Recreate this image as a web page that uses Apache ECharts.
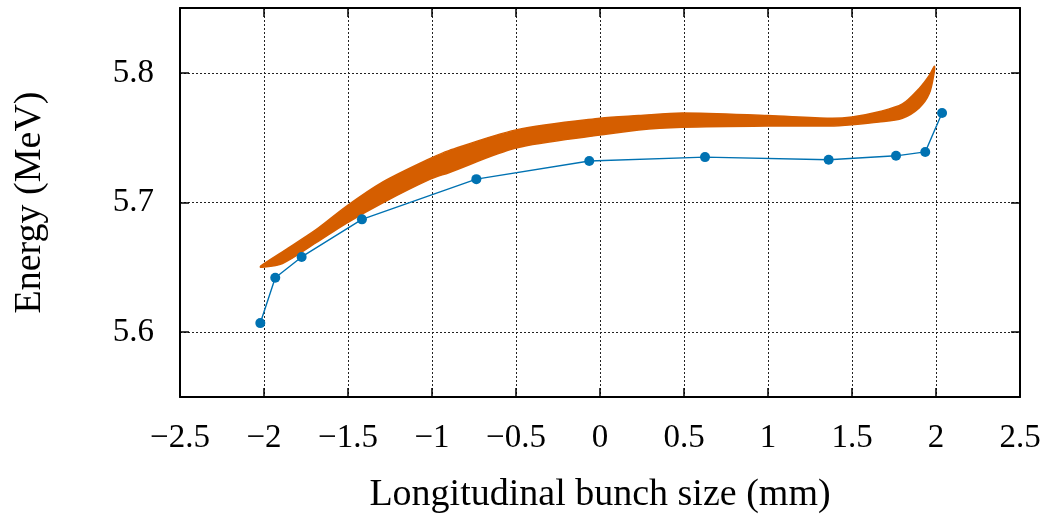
<!DOCTYPE html>
<html>
<head>
<meta charset="utf-8">
<script src="https://cdn.jsdelivr.net/npm/echarts@6/dist/echarts.min.js"></script>
<style>
  html, body { margin: 0; padding: 0; background: #fff; }
  #chart { width: 1045px; height: 519px; }
</style>
</head>
<body>
<div id="chart"></div>
<script>
// simulated bunch (orange band): upper / lower edge of the particle cloud
var bandX     = [-2.02, -1.89, -1.69, -1.51, -1.29, -1.01, -0.90, -0.50, 0.00, 0.23, 0.49, 1.00, 1.37, 1.50, 1.66, 1.80, 1.90, 1.96, 1.99];
var bandUpper = [5.651, 5.662, 5.679, 5.697, 5.716, 5.734, 5.740, 5.756, 5.765, 5.767, 5.769, 5.767, 5.765, 5.766, 5.770, 5.776, 5.788, 5.798, 5.805];
var bandLower = [5.650, 5.653, 5.669, 5.684, 5.700, 5.718, 5.723, 5.742, 5.752, 5.756, 5.758, 5.759, 5.759, 5.760, 5.762, 5.765, 5.773, 5.784, 5.801];

// measured points (blue)
var measX = [-2.022, -1.933, -1.776, -1.417, -0.736, -0.064, 0.625, 1.361, 1.762, 1.936, 2.036];
var measY = [5.607, 5.642, 5.658, 5.687, 5.718, 5.732, 5.735, 5.733, 5.736, 5.739, 5.769];

var xTicks = [-2.5, -2, -1.5, -1, -0.5, 0, 0.5, 1, 1.5, 2, 2.5];
var yTicks = [5.6, 5.7, 5.8];

var font = '"Liberation Serif", "DejaVu Serif", serif';

function fmtX(v) {
  var s = String(Math.round(v * 10) / 10);
  return s.replace('-', '\u2212');
}

var chart = echarts.init(document.getElementById('chart'));

var frameLine = { show: true, onZero: false, lineStyle: { color: '#000', width: 2 } };
var tick = { show: true, inside: true, length: 9, lineStyle: { color: '#000', width: 1.5 } };
var dotted = { show: true, lineStyle: { color: '#222', width: 1, type: [2, 2] } };

chart.setOption({
  animation: false,
  backgroundColor: '#fff',
  grid: { left: 180, right: 25, top: 8, bottom: 122 },
  xAxis: [{
    type: 'value',
    min: xTicks[0],
    max: xTicks[xTicks.length - 1],
    interval: 0.5,
    position: 'bottom',
    axisLine: frameLine,
    axisTick: tick,
    splitLine: dotted,
    axisLabel: {
      margin: 25,
      fontFamily: font,
      fontSize: 33,
      color: '#000',
      formatter: fmtX
    },
    name: 'Longitudinal bunch size (mm)',
    nameLocation: 'middle',
    nameGap: 79,
    nameTextStyle: { fontFamily: font, fontSize: 38, color: '#000' }
  }, {
    type: 'value',
    min: xTicks[0],
    max: xTicks[xTicks.length - 1],
    interval: 0.5,
    position: 'top',
    axisLine: frameLine,
    axisTick: tick,
    splitLine: { show: false },
    axisLabel: { show: false }
  }],
  yAxis: [{
    type: 'value',
    min: 5.55,
    max: 5.85,
    splitNumber: 3,
    position: 'left',
    axisLine: frameLine,
    axisTick: tick,
    splitLine: dotted,
    axisLabel: {
      margin: 26,
      fontFamily: font,
      fontSize: 33,
      color: '#000',
      showMinLabel: false,
      showMaxLabel: false,
      formatter: function (v) {
        for (var i = 0; i < yTicks.length; i++) {
          if (Math.abs(v - yTicks[i]) < 1e-6) return yTicks[i].toFixed(1);
        }
        return '';
      }
    },
    name: 'Energy (MeV)',
    nameLocation: 'middle',
    nameGap: 131,
    nameTextStyle: { fontFamily: font, fontSize: 38, color: '#000' }
  }, {
    type: 'value',
    min: 5.55,
    max: 5.85,
    splitNumber: 3,
    position: 'right',
    axisLine: frameLine,
    axisTick: tick,
    splitLine: { show: false },
    axisLabel: { show: false }
  }],
  series: [{
    type: 'custom',
    xAxisIndex: 0,
    yAxisIndex: 0,
    silent: true,
    z: 2,
    data: [[bandX[0], bandUpper[0]]],
    renderItem: function (params, api) {
      var pts = [];
      for (var i = 0; i < bandX.length; i++) pts.push(api.coord([bandX[i], bandUpper[i]]));
      for (var j = bandX.length - 1; j >= 0; j--) pts.push(api.coord([bandX[j], bandLower[j]]));
      return {
        type: 'polygon',
        shape: { points: pts, smooth: 0.3 },
        style: { fill: '#D55E00', stroke: '#D55E00', lineWidth: 1.5 }
      };
    }
  }, {
    type: 'line',
    xAxisIndex: 0,
    yAxisIndex: 0,
    z: 3,
    data: measX.map(function (x, i) { return [x, measY[i]]; }),
    symbol: 'circle',
    symbolSize: 10,
    showSymbol: true,
    lineStyle: { color: '#0072B2', width: 1.4 },
    itemStyle: { color: '#0072B2' }
  }]
});
</script>
</body>
</html>
